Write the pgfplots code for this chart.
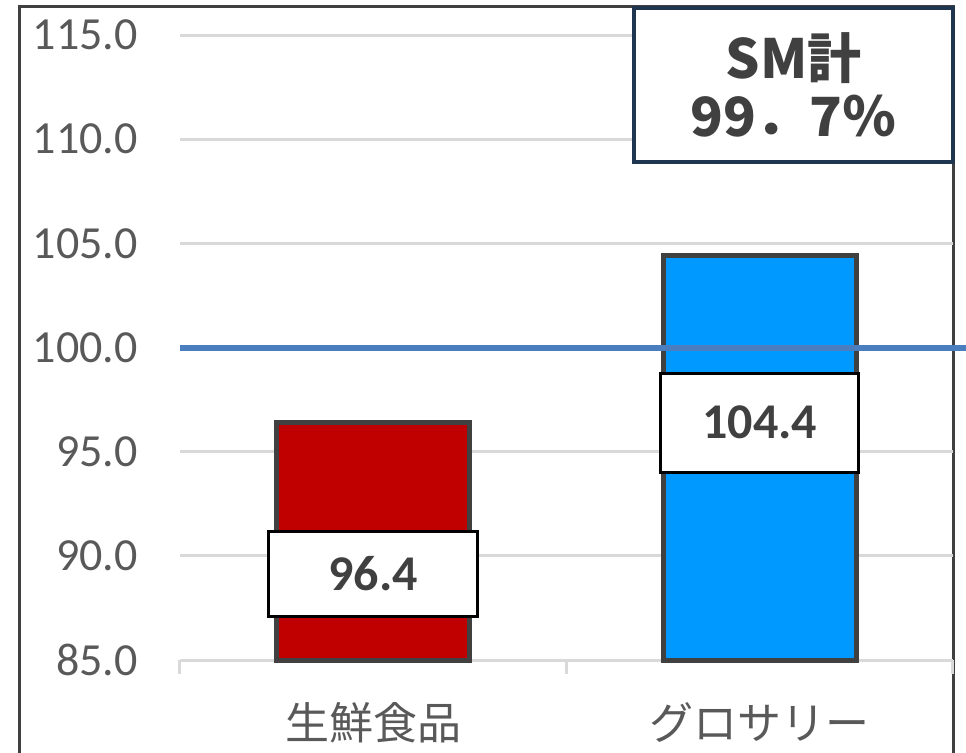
\documentclass[border=0pt]{standalone}
\usepackage{fontspec}
\setmainfont{Carlito}
\newfontfamily\cjk{Noto Sans CJK JP}
\usepackage{pgfplots}
\pgfplotsset{compat=1.18}
\definecolor{barred}{HTML}{C00000}
\definecolor{barblue}{HTML}{0099FF}
\definecolor{bardraw}{HTML}{404040}
\definecolor{lineblue}{HTML}{4A7EBF}
\definecolor{gridgray}{HTML}{D9D9D9}
\definecolor{txtgray}{HTML}{595959}
\definecolor{lbltxt}{HTML}{404040}
\definecolor{navy}{HTML}{1F3550}
\begin{document}
\begin{tikzpicture}
\useasboundingbox (-90pt,-46pt) rectangle (393pt,330pt);
\clip (-90pt,-46pt) rectangle (393pt,330pt);
% outer frame
\draw[bardraw, line width=1.5pt] (-80pt,-60pt) -- (-80pt,327pt) -- (386.5pt,327pt) -- (386.5pt,-60pt);
\begin{axis}[
  at={(0pt,0pt)}, anchor=south west,
  scale only axis, width=386.5pt, height=312.5pt,
  xmin=-0.5, xmax=1.5, ymin=85, ymax=115,
  clip=false,
  axis line style={draw=none},
  ytick={85,90,...,115},
  ymajorgrids, grid style={gridgray, line width=1.5pt},
  major tick length=0pt,
  /pgf/number format/assume math mode=true,
  yticklabel={\pgfmathprintnumber[fixed,fixed zerofill,precision=1]{\tick}},
  yticklabel style={font=\fontsize{23}{23}\selectfont, text=txtgray, anchor=east, inner sep=0pt, xshift=-21pt},
  xtick={0,1}, xticklabels={生鮮食品,グロサリー},
  xticklabel style={font=\cjk\fontsize{22}{22}\selectfont, text=txtgray, anchor=north, inner sep=0pt, yshift=-21pt},
  xtick pos=bottom, tick align=outside,
  extra x ticks={-0.5,0.5,1.5}, extra x tick labels={},
  extra x tick style={grid=none, major tick length=7pt, tick style={gridgray, line width=1.5pt}},
]
\addplot[fill=barred, draw=bardraw, line width=2.5pt] coordinates {(-0.25,85) (-0.25,96.4) (0.25,96.4) (0.25,85)} -- cycle;
\addplot[fill=barblue, draw=bardraw, line width=2.5pt] coordinates {(0.75,85) (0.75,104.4) (1.25,104.4) (1.25,85)} -- cycle;
\addplot[lineblue, line width=3pt] coordinates {(-0.5,100) (1.54,100)};
\node[draw=black, fill=white, line width=1.5pt, minimum width=104.5pt, minimum height=42.5pt, inner sep=0pt, text=lbltxt, font=\bfseries\fontsize{25}{25}\selectfont] at (axis cs:0,89.15) {96.4};
\node[draw=black, fill=white, line width=1.5pt, minimum width=99pt, minimum height=49.5pt, inner sep=0pt, text=lbltxt, font=\bfseries\fontsize{25}{25}\selectfont] at (axis cs:1,96.4) {104.4};
\end{axis}
% summary box
\node[draw=navy, fill=white, line width=2pt, minimum width=159.5pt, minimum height=77pt, inner sep=0pt, align=center, text=lbltxt, font=\cjk\bfseries\fontsize{27}{29}\selectfont] at (306.75pt,287.5pt) {SM計\\99．7％};
\end{tikzpicture}
\end{document}
